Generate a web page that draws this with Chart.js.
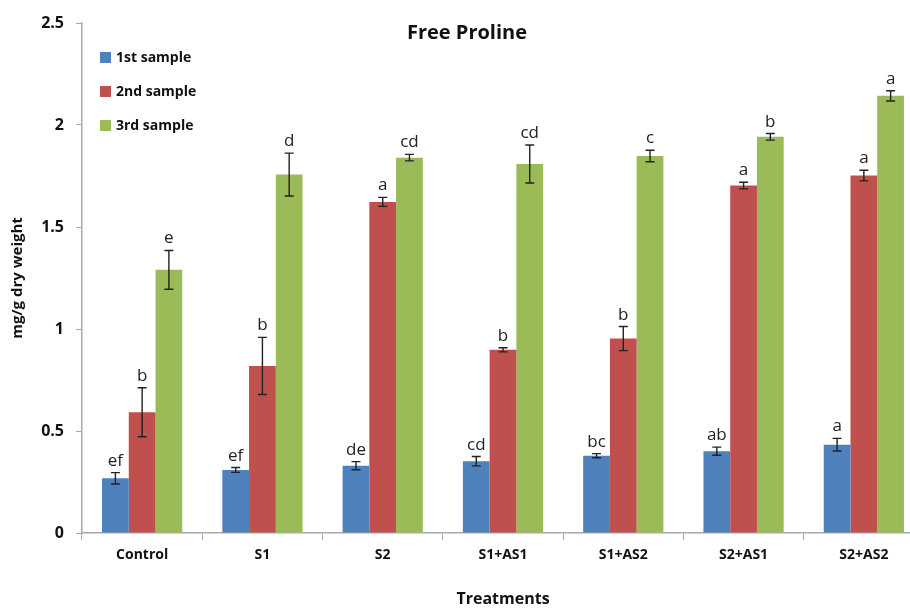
<!DOCTYPE html>
<html>
<head>
<meta charset="utf-8">
<script src="https://cdn.jsdelivr.net/npm/chart.js@4.4.1/dist/chart.umd.min.js"></script>
<style>
  html, body { margin: 0; padding: 0; background: #fff; overflow: hidden; }
  #chart { display: block; }
</style>
</head>
<body>
<canvas id="chart" width="926" height="609"></canvas>
<script>
const categories = ['Control', 'S1', 'S2', 'S1+AS1', 'S1+AS2', 'S2+AS1', 'S2+AS2'];

const sample1 = [0.268, 0.309, 0.330, 0.352, 0.379, 0.401, 0.433];
const sample1Err = [0.028, 0.012, 0.020, 0.023, 0.010, 0.020, 0.031];
const sample1Letters = ['ef', 'ef', 'de', 'cd', 'bc', 'ab', 'a'];

const sample2 = [0.592, 0.819, 1.623, 0.898, 0.953, 1.703, 1.752];
const sample2Err = [0.120, 0.140, 0.022, 0.010, 0.059, 0.016, 0.026];
const sample2Letters = ['b', 'b', 'a', 'b', 'b', 'a', 'a'];

const sample3 = [1.290, 1.757, 1.840, 1.809, 1.848, 1.942, 2.143];
const sample3Err = [0.095, 0.105, 0.016, 0.093, 0.028, 0.016, 0.025];
const sample3Letters = ['e', 'd', 'cd', 'cd', 'c', 'b', 'a'];

const yTicks = [0, 0.5, 1, 1.5, 2, 2.5];
const yTickLabels = ['0', '0.5', '1', '1.5', '2', '2.5'];

const FONT = "'Open Sans', sans-serif";

// error bars + significance letters, placed from the chart's own scales
const errorBars = {
  id: 'errorBars',
  afterDatasetsDraw(chart) {
    const ctx = chart.ctx;
    const y = chart.scales.y;
    ctx.save();
    chart.data.datasets.forEach((ds, i) => {
      const meta = chart.getDatasetMeta(i);
      meta.data.forEach((bar, j) => {
        const v = ds.data[j];
        const e = ds.errors[j];
        const top = y.getPixelForValue(v + e);
        const bot = y.getPixelForValue(v - e);
        ctx.strokeStyle = '#222';
        ctx.lineWidth = 1.4;
        ctx.beginPath();
        ctx.moveTo(bar.x, top); ctx.lineTo(bar.x, bot);
        ctx.moveTo(bar.x - 4.5, top); ctx.lineTo(bar.x + 4.5, top);
        ctx.moveTo(bar.x - 4.5, bot); ctx.lineTo(bar.x + 4.5, bot);
        ctx.stroke();

        ctx.fillStyle = '#222';
        ctx.font = '17px ' + FONT;
        ctx.textAlign = 'center';
        ctx.textBaseline = 'alphabetic';
        ctx.fillText(ds.letters[j], bar.x, top - 7);
      });
    });
    ctx.restore();
  }
};

// title and legend sit inside the plot area like the original
const overlay = {
  id: 'overlay',
  afterDraw(chart) {
    const ctx = chart.ctx;
    ctx.save();
    ctx.fillStyle = '#111';
    ctx.font = 'bold 20px ' + FONT;
    ctx.textAlign = 'center';
    ctx.textBaseline = 'middle';
    ctx.fillText('Free Proline', 467, 33);

    const rows = [57, 91, 125];
    ctx.font = 'bold 14px ' + FONT;
    ctx.textAlign = 'left';
    chart.data.datasets.forEach((ds, i) => {
      ctx.fillStyle = ds.backgroundColor;
      ctx.fillRect(100, rows[i] - 5, 11, 11);
      ctx.fillStyle = '#111';
      ctx.fillText(ds.label, 116, rows[i] + 1);
    });
    ctx.restore();
  }
};

new Chart(document.getElementById('chart'), {
  type: 'bar',
  data: {
    labels: categories,
    datasets: [
      { label: '1st sample', data: sample1, errors: sample1Err, letters: sample1Letters, backgroundColor: '#4F81BD' },
      { label: '2nd sample', data: sample2, errors: sample2Err, letters: sample2Letters, backgroundColor: '#C0504D' },
      { label: '3rd sample', data: sample3, errors: sample3Err, letters: sample3Letters, backgroundColor: '#9BBB59' },
    ],
  },
  options: {
    responsive: false,
    animation: false,
    categoryPercentage: 0.667,
    barPercentage: 1,
    layout: { padding: { top: 23, right: 2, bottom: 0, left: 0 } },
    plugins: {
      legend: { display: false },
      title: { display: false },
      tooltip: { enabled: false },
    },
    scales: {
      x: {
        afterFit(scale) { scale.height = 76; },
        grid: { display: true, drawOnChartArea: false, tickLength: 7, color: '#aaa' },
        border: { color: '#aaa', width: 1.5 },
        ticks: { color: '#111', font: { family: FONT, size: 14, weight: 'bold' }, padding: 7, maxRotation: 0 },
        title: {
          display: true, text: 'Treatments', color: '#111',
          font: { family: FONT, size: 16, weight: 'bold' }, padding: { top: 0, bottom: 0 },
        },
      },
      y: {
        min: 0,
        max: 2.5,
        afterFit(scale) { scale.width = 82; },
        afterBuildTicks(scale) { scale.ticks = yTicks.map((v) => ({ value: v })); },
        grid: { display: true, drawOnChartArea: false, tickLength: 6, color: '#aaa' },
        border: { color: '#aaa', width: 1.5 },
        ticks: {
          color: '#111', font: { family: FONT, size: 16, weight: 'bold' }, padding: 12,
          callback: (v, i) => yTickLabels[i],
        },
        title: {
          display: true, text: 'mg/g dry weight', color: '#111',
          font: { family: FONT, size: 15, weight: 'bold' }, padding: { top: 9, bottom: 0 },
        },
      },
    },
  },
  plugins: [errorBars, overlay],
});
</script>
</body>
</html>
